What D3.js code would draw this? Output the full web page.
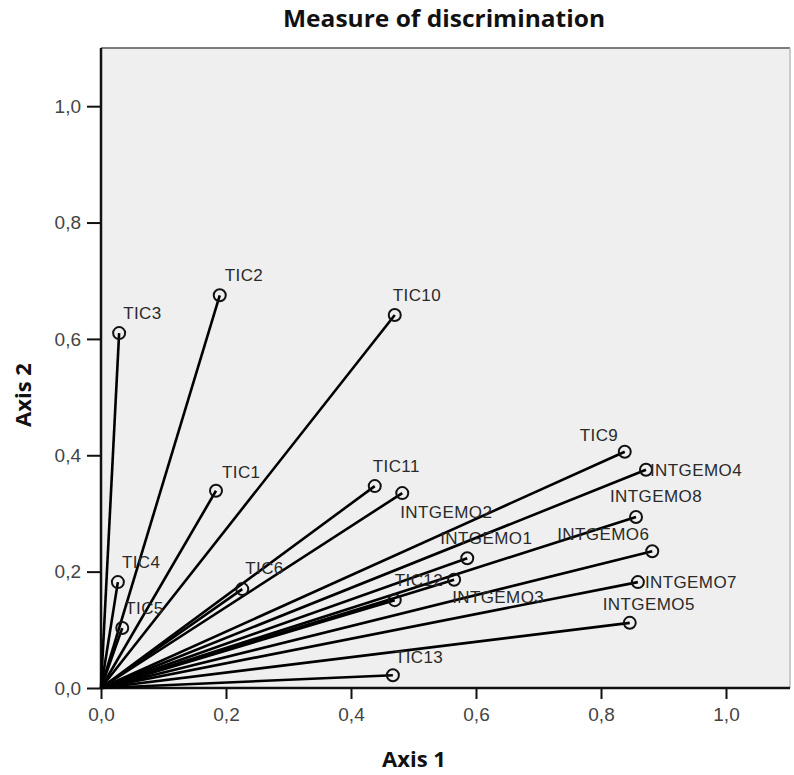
<!DOCTYPE html>
<html>
<head>
<meta charset="utf-8">
<script src="https://d3js.org/d3.v7.min.js"></script>
<style>
    body { margin: 0; background: #fff; }
    svg { display: block; }
    .tick-label { font-family: "Liberation Sans", Arial, sans-serif; font-size: 19px; fill: #444; }
    .point-label { font-family: "Liberation Sans", Arial, sans-serif; font-size: 17px; fill: #2a2a2a; letter-spacing: 0.4px; }
    .axis-title { font-family: "Open Sans", sans-serif; font-weight: bold; font-size: 22px; fill: #111; }
</style>
</head>
<body>
<svg></svg>
<script>
// variable names and discrimination measures (dimension 1, dimension 2)
const names = ["TIC1", "TIC2", "TIC3", "TIC4", "TIC5", "TIC6", "TIC9", "TIC10", "TIC11", "TIC12", "TIC13",
    "INTGEMO1", "INTGEMO2", "INTGEMO3", "INTGEMO4", "INTGEMO5", "INTGEMO6", "INTGEMO7", "INTGEMO8"];
const dim1 = [0.184, 0.190, 0.029, 0.027, 0.034, 0.226, 0.838, 0.470, 0.438, 0.470, 0.467,
    0.586, 0.482, 0.565, 0.872, 0.846, 0.882, 0.859, 0.856];
const dim2 = [0.339, 0.675, 0.610, 0.182, 0.103, 0.170, 0.406, 0.641, 0.347, 0.151, 0.022,
    0.223, 0.335, 0.186, 0.375, 0.112, 0.235, 0.182, 0.294];
const tickValues = [0, 0.2, 0.4, 0.6, 0.8, 1.0];

// where each label sits relative to its point (px)
const labelOffsets = {
    TIC1: [6, -13], TIC2: [5, -14], TIC3: [4, -14], TIC4: [4, -14], TIC5: [3, -14], TIC6: [3, -15],
    TIC9: [-45, -11], TIC10: [-2, -14], TIC11: [-2, -14], TIC12: [0, -14], TIC13: [2, -12],
    INTGEMO1: [-27, -14], INTGEMO2: [-2, 25], INTGEMO3: [-2, 23], INTGEMO4: [4, 6],
    INTGEMO5: [-27, -13], INTGEMO6: [-95, -11], INTGEMO7: [7, 6], INTGEMO8: [-26, -15]
};

const data = names.map((n, i) => ({ name: n, x: dim1[i], y: dim2[i] }));

const width = 794, height = 775;
const plot = { left: 101, right: 790, top: 48, bottom: 688 };

const svg = d3.select("svg").attr("width", width).attr("height", height);

const x = d3.scaleLinear().domain([0, 1.1]).range([plot.left, plot.left + 1.1 * 625]);
const y = d3.scaleLinear().domain([0, 1.1]).range([plot.bottom, plot.top]);

const fmt = d => d3.format(".1f")(d).replace(".", ",");

// plot background + frame
svg.append("rect")
    .attr("x", plot.left).attr("y", plot.top)
    .attr("width", plot.right - plot.left).attr("height", plot.bottom - plot.top)
    .attr("fill", "#efefef");
svg.append("line")
    .attr("x1", plot.left).attr("x2", plot.right)
    .attr("y1", plot.top).attr("y2", plot.top)
    .attr("stroke", "#555").attr("stroke-width", 1.5);
svg.append("line")
    .attr("x1", plot.right).attr("x2", plot.right)
    .attr("y1", plot.top).attr("y2", plot.bottom)
    .attr("stroke", "#bbb").attr("stroke-width", 1.5);

// axes
const xAxis = svg.append("g")
    .attr("transform", `translate(0,${plot.bottom})`)
    .call(d3.axisBottom(x).tickValues(tickValues).tickFormat(fmt).tickSize(11).tickPadding(9));
const yAxis = svg.append("g")
    .attr("transform", `translate(${plot.left},0)`)
    .call(d3.axisLeft(y).tickValues(tickValues).tickFormat(fmt).tickSize(14).tickPadding(6));

[xAxis, yAxis].forEach(g => {
    g.attr("font-family", null).attr("font-size", null);
    g.select(".domain").remove();
    g.selectAll(".tick line").attr("stroke", "#111").attr("stroke-width", 2);
    g.selectAll(".tick text").attr("class", "tick-label");
});

svg.append("line")
    .attr("x1", plot.left).attr("x2", plot.right)
    .attr("y1", plot.bottom).attr("y2", plot.bottom)
    .attr("stroke", "#111").attr("stroke-width", 2.5);
svg.append("line")
    .attr("x1", plot.left).attr("x2", plot.left)
    .attr("y1", plot.top).attr("y2", plot.bottom)
    .attr("stroke", "#111").attr("stroke-width", 2.5);

// vectors from the origin
svg.append("g")
    .selectAll("line")
    .data(data)
    .enter().append("line")
    .attr("x1", x(0)).attr("y1", y(0))
    .attr("x2", d => x(d.x)).attr("y2", d => y(d.y))
    .attr("stroke", "#000").attr("stroke-width", 2.6);

svg.append("g")
    .selectAll("circle")
    .data(data)
    .enter().append("circle")
    .attr("cx", d => x(d.x)).attr("cy", d => y(d.y))
    .attr("r", 6)
    .attr("fill", "none")
    .attr("stroke", "#111").attr("stroke-width", 2);

svg.append("g")
    .selectAll("text")
    .data(data)
    .enter().append("text")
    .attr("class", "point-label")
    .attr("x", d => x(d.x) + labelOffsets[d.name][0])
    .attr("y", d => y(d.y) + labelOffsets[d.name][1])
    .text(d => d.name);

// titles
svg.append("text")
    .attr("class", "axis-title")
    .attr("x", 444).attr("y", 27)
    .attr("text-anchor", "middle")
    .style("font-size", "24px")
    .attr("textLength", 322)
    .attr("lengthAdjust", "spacingAndGlyphs")
    .text("Measure of discrimination");

svg.append("text")
    .attr("class", "axis-title")
    .attr("x", 414).attr("y", 767)
    .attr("text-anchor", "middle")
    .text("Axis 1");

svg.append("text")
    .attr("class", "axis-title")
    .attr("transform", "translate(31,395) rotate(-90)")
    .attr("text-anchor", "middle")
    .text("Axis 2");
</script>
</body>
</html>
